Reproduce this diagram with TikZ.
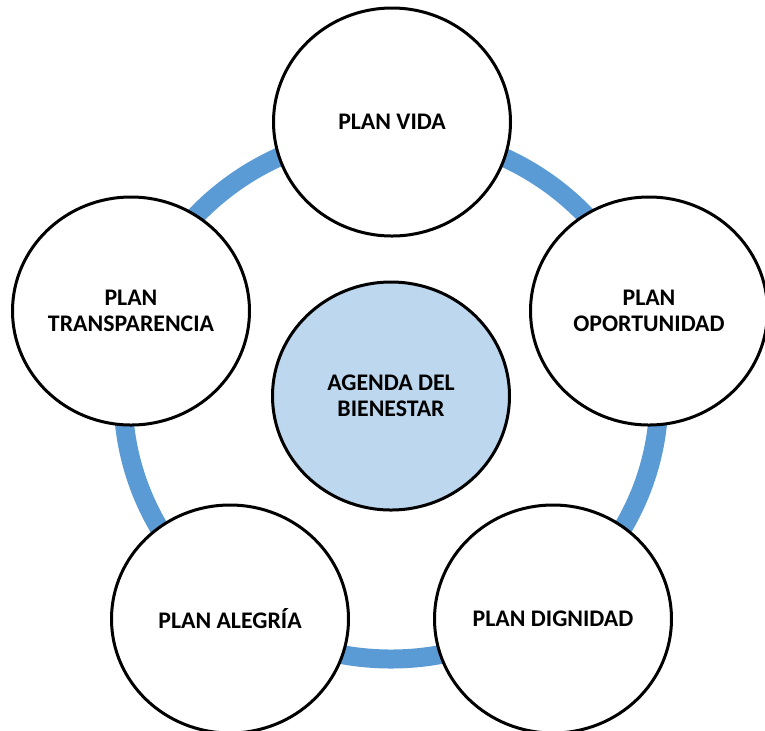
\documentclass[tikz,border=0pt]{standalone}
\usepackage{fontspec}
\setmainfont{Carlito}
\usetikzlibrary{shapes.geometric}
\definecolor{ringblue}{HTML}{5B9BD5}
\definecolor{hubblue}{HTML}{BDD7EE}

\begin{document}
\begin{tikzpicture}[x=0.5pt, y=-0.5pt,
  plan/.style={shape=ellipse, draw=black, line width=1.5pt, fill=white,
    minimum width=237pt*0.5, minimum height=228pt*0.5, inner sep=0pt,
    align=center, font=\fontsize{11.9}{13}\selectfont\bfseries}]
\useasboundingbox (0,0) rectangle (765,730);
% ring behind the circles
\draw[draw=ringblue, line width=9.5pt] (391,396) ellipse [x radius=268, y radius=263];
\node[plan, fill=hubblue] (agenda) at (391,396) {AGENDA DEL\\BIENESTAR};
\node[plan] (vida) at (392,122) {PLAN VIDA};
\node[plan] (oportunidad) at (649,311) {PLAN\\OPORTUNIDAD};
\node[plan] (dignidad) at (553,619) {PLAN DIGNIDAD};
\node[plan] (alegria) at (230,619) {PLAN ALEGRÍA};
\node[plan] (transparencia) at (131,311) {PLAN\\TRANSPARENCIA};
\end{tikzpicture}
\end{document}
